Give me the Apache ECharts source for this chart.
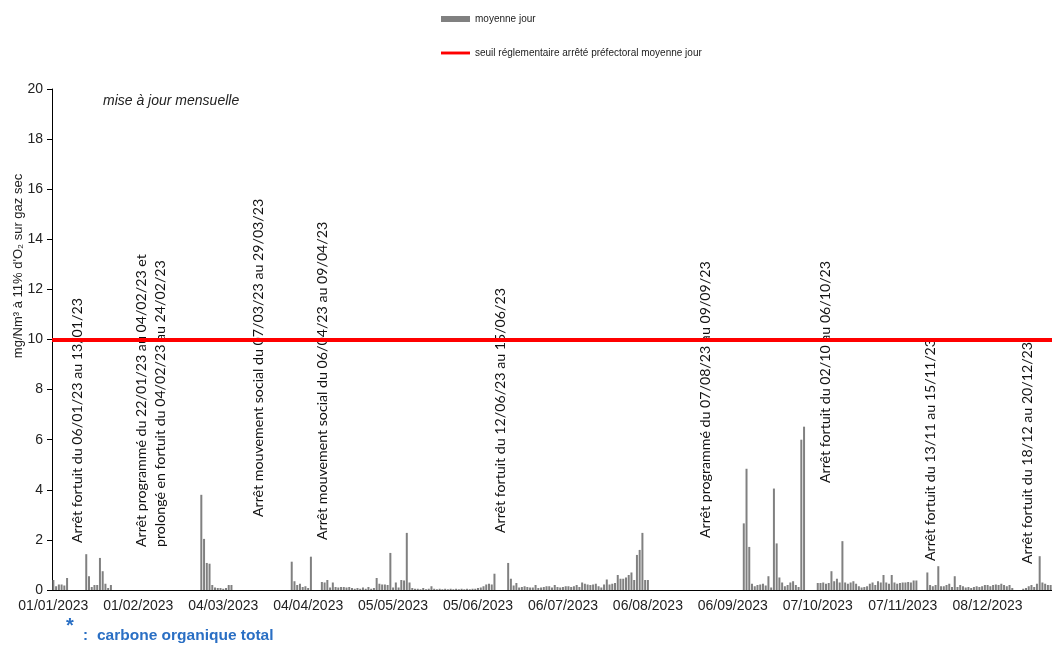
<!DOCTYPE html>
<html><head><meta charset="utf-8">
<script src="https://cdn.jsdelivr.net/npm/echarts@6/dist/echarts.min.js"></script>
<style>html,body{margin:0;padding:0;background:#fff}#c{width:1052px;height:646px}</style>
</head><body><div id="c"></div>
<script>
// ---------- DATA ----------
const YEAR = 2023;
const _ = null; // jour sans mesure (arrêt)
const jan = [0.4,0.15,0.22,0.22,0.18,0.48,_,_,_,_,_,_,1.43,0.55,0.12,0.2,0.2,1.28,0.75,0.25,0.08,0.2,_,_,_,_,_,_,_,_,_];
const feb = [_,_,_,_,_,_,_,_,_,_,_,_,_,_,_,_,_,_,_,_,_,_,_,3.8,2.04,1.08,1.05,0.2];
const mar = [0.1,0.08,0.08,0.05,0.08,0.2,0.2,_,_,_,_,_,_,_,_,_,_,_,_,_,_,_,_,_,_,_,_,_,1.13,0.35,0.2];
const apr = [0.25,0.12,0.15,0.08,1.33,_,_,_,0.32,0.3,0.4,0.1,0.3,0.12,0.1,0.12,0.12,0.1,0.12,0.08,0.05,0.08,0.05,0.1,0.05,0.12,0.05,0.08,0.48,0.25];
const may = [0.22,0.22,0.2,1.48,0.1,0.3,0.1,0.4,0.38,2.28,0.3,0.08,0.05,0.05,0.03,0.08,0.03,0.05,0.15,0.05,0.03,0.05,0.03,0.05,0.03,0.05,0.03,0.05,0.03,0.05,0.03];
const jun = [0.05,0.03,0.05,0.05,0.08,0.1,0.15,0.22,0.25,0.22,0.65,_,_,_,_,1.08,0.45,0.18,0.28,0.1,0.12,0.15,0.12,0.1,0.1,0.2,0.08,0.1,0.12,0.15];
const jul = [0.15,0.1,0.2,0.12,0.1,0.12,0.15,0.15,0.12,0.15,0.2,0.12,0.3,0.25,0.22,0.2,0.22,0.25,0.15,0.1,0.22,0.42,0.22,0.25,0.28,0.6,0.45,0.45,0.5,0.6,0.7];
const aug = [0.4,1.4,1.6,2.28,0.4,0.4,_,_,_,_,_,_,_,_,_,_,_,_,_,_,_,_,_,_,_,_,_,_,_,_,_];
const sep = [_,_,_,_,_,_,_,_,_,2.66,4.84,1.72,0.25,0.15,0.2,0.22,0.25,0.18,0.55,0.1,4.05,1.86,0.5,0.3,0.15,0.2,0.3,0.35,0.2,0.12];
const oct = [6.0,6.52,_,_,_,_,0.28,0.28,0.3,0.25,0.28,0.75,0.35,0.45,0.3,1.95,0.3,0.25,0.3,0.35,0.25,0.15,0.1,0.12,0.15,0.25,0.3,0.2,0.35,0.3,0.6];
const nov = [0.3,0.25,0.6,0.3,0.25,0.28,0.3,0.3,0.32,0.3,0.38,0.38,_,_,_,0.7,0.2,0.15,0.2,0.95,0.15,0.15,0.2,0.25,0.12,0.55,0.12,0.2,0.15,0.1];
const dec = [0.12,0.08,0.12,0.15,0.12,0.15,0.2,0.2,0.15,0.2,0.22,0.2,0.25,0.2,0.15,0.2,0.08,_,_,_,0.05,0.08,0.15,0.2,0.12,0.25,1.35,0.3,0.25,0.2,0.2];
const SEUIL = 10;
const Y_MIN = 0, Y_MAX = 20, Y_STEP = 2;
const seriesNames = ['moyenne jour', 'seuil réglementaire arrêté préfectoral moyenne jour'];
const yAxisName = "mg/Nm³ à 11% d'O₂ sur gaz sec";
const noteText = 'mise à jour mensuelle';
const footnoteStar = '*';
const footnoteText = 'carbone organique total';
const annotations = [
  'Arrêt fortuit du 06/01/23 au 13/01/23',
  'Arrêt programmé du 22/01/23 au 04/02/23 et',
  'prolongé en fortuit du 04/02/23 au 24/02/23',
  'Arrêt mouvement social du 07/03/23 au 29/03/23',
  'Arrêt mouvement social du 06/04/23 au 09/04/23',
  'Arrêt fortuit du 12/06/23 au 15/06/23',
  'Arrêt programmé du 07/08/23 au 09/09/23',
  'Arrêt fortuit du 02/10 au 06/10/23',
  'Arrêt fortuit du 13/11 au 15/11/23',
  'Arrêt fortuit du 18/12 au 20/12/23'
];

// ---------- BUILD ----------
const pad = n => (n < 10 ? '0' : '') + n;
const categories = [];
for (let m = 0; m < 12; m++) {
  const n = new Date(YEAR, m + 1, 0).getDate();
  for (let d = 1; d <= n; d++) categories.push(pad(d) + '/' + pad(m + 1) + '/' + YEAR);
}
const moyenneJour = [].concat(jan, feb, mar, apr, may, jun, jul, aug, sep, oct, nov, dec);

// layout of annotation texts (anchor = start of the rotated text)
const annLayout = [[77,543],[141,547],[160,547],[258,517],[322,540],[500,533],[705,538],[825,483],[930,561],[1027,564]];
const ANN_FONT = 'Lato';
const ANN_REF_LEN = 245; // pixel length of first annotation
const cv = document.createElement('canvas').getContext('2d');
cv.font = '100px ' + ANN_FONT;
const annSize = ANN_REF_LEN / cv.measureText(annotations[0]).width * 100;

const SANS = '"Liberation Sans", Arial, sans-serif';
const graphics = [];
annotations.forEach((a, i) => {
  graphics.push({
    type: 'text', x: annLayout[i][0], y: annLayout[i][1], rotation: Math.PI / 2, silent: true,
    style: { text: a, fontFamily: ANN_FONT, fontSize: annSize, fill: '#111', align: 'left', verticalAlign: 'middle' }
  });
});
graphics.push({
  type: 'text', x: 18, y: 266, rotation: Math.PI / 2, silent: true,
  style: { text: yAxisName, fontFamily: SANS, fontSize: 13, fill: '#222', align: 'center', verticalAlign: 'middle' }
});
graphics.push({
  type: 'text', x: 103, y: 101, silent: true,
  style: { text: noteText, fontFamily: SANS, fontSize: 14, fontStyle: 'italic', fill: '#222', align: 'left', verticalAlign: 'middle' }
});
graphics.push({
  type: 'text', x: 66, y: 626, silent: true,
  style: { text: footnoteStar, fontFamily: SANS, fontSize: 20, fontWeight: 'bold', fill: '#2a6fc4', align: 'left', verticalAlign: 'middle' }
});
graphics.push({
  type: 'text', x: 83, y: 636, silent: true,
  style: { text: ':', fontFamily: SANS, fontSize: 15, fontWeight: 'bold', fill: '#2a6fc4', align: 'left', verticalAlign: 'middle' }
});
graphics.push({
  type: 'text', x: 97, y: 636, silent: true,
  style: { text: footnoteText, fontFamily: SANS, fontSize: 15.5, fontWeight: 'bold', fill: '#2a6fc4', align: 'left', verticalAlign: 'middle' }
});

const chart = echarts.init(document.getElementById('c'), null, { renderer: 'canvas' });
chart.setOption({
  animation: false,
  backgroundColor: '#fff',
  textStyle: { fontFamily: SANS },
  legend: {
    orient: 'vertical', left: 436, top: 8, itemWidth: 29, itemHeight: 6, itemGap: 22,
    textStyle: { fontFamily: SANS, fontSize: 10, color: '#222', lineHeight: 12 },
    data: [
      { name: seriesNames[0], icon: 'rect' },
      { name: seriesNames[1], icon: 'path://M0,0H30V3H0Z' }
    ]
  },
  grid: { left: 52, top: 89, width: 365 * 2.768, height: 501 },
  xAxis: {
    type: 'category', data: categories, boundaryGap: true,
    axisLine: { lineStyle: { color: '#000', width: 1 } },
    axisTick: { show: false },
    axisLabel: { interval: 30, fontSize: 14, color: '#222', margin: 9, fontFamily: SANS },
    splitLine: { show: false }
  },
  yAxis: {
    type: 'value', min: Y_MIN, max: Y_MAX, interval: Y_STEP,
    splitLine: { show: false },
    axisLine: { show: true, lineStyle: { color: '#000', width: 1 } },
    axisTick: { show: true, length: 5, lineStyle: { color: '#000' } },
    axisLabel: { fontSize: 14, color: '#222', margin: 9, fontFamily: SANS }
  },
  series: [
    {
      name: seriesNames[0], type: 'bar', data: moyenneJour, barWidth: 2,
      itemStyle: { color: '#808080' },
      markLine: {
        silent: true, symbol: ['none', 'none'], label: { show: false },
        lineStyle: { color: '#ff0000', width: 4, type: 'solid' },
        data: [{ yAxis: SEUIL }]
      }
    },
    { name: seriesNames[1], type: 'line', data: [], itemStyle: { color: '#ff0000' }, lineStyle: { color: '#ff0000', width: 3 }, symbol: 'none' }
  ],
  graphic: graphics
});
</script></body></html>
